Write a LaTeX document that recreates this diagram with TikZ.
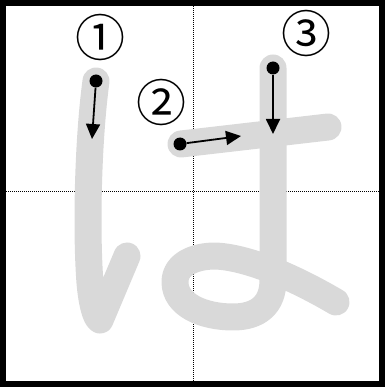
\documentclass[tikz,border=0pt]{standalone}
\usepackage{fontspec}
\newfontfamily\jpfont{Noto Sans CJK JP}
\usetikzlibrary{arrows.meta}
\definecolor{strokegray}{RGB}{217,217,217}
\begin{document}
\begin{tikzpicture}[x=1pt, y=-1pt,
		startdot/.style={fill, circle, inner sep=0pt, minimum size=13pt},
		num/.style={font=\jpfont\fontsize{50}{50}\selectfont, inner sep=0pt},
		kanastroke/.style={strokegray, line width=27pt, line cap=round, line join=round},
		arr/.style={-{Triangle[length=15pt, width=14pt]}, line width=1.8pt}]
		\useasboundingbox (0,0) rectangle (385,387);
		\draw[densely dotted, line width=1pt] (193,6) -- (193,381) (6,191) -- (380,191);
		\draw[line width=6pt] (3,3) rectangle (382,384);
		
		\draw[kanastroke] (96,81) .. controls (88,140) and (86,230) .. (90,283) .. controls (92,305) and (96,318) .. (100,320) -- (127,256);
		\draw[kanastroke] (181,144) -- (328,127);
		\draw[kanastroke] (273,68) -- (273,280) .. controls (273,305) and (258,317) .. (233,317) .. controls (203,317) and (175,305) .. (175,282) .. controls (175,264) and (195,256) .. (215,256) .. controls (245,257) and (290,275) .. (336,302);
		
		\node[num] at (100,38) (N1) {①};
		\node[num] at (161,103) (N2) {②};
		\node[num] at (306,34) (N3) {③};
		
		\node[startdot] at (96,81) (D1) {};
		\node[startdot] at (180,144) (D2) {};
		\node[startdot] at (273,68) (D3) {};
		\coordinate (A1) at (92,139);
		\coordinate (A2) at (241,136);
		\coordinate (A3) at (273,134);
		
		\draw[arr] (D1) -- (A1);
		\draw[arr] (D2) -- (A2);
		\draw[arr] (D3) -- (A3);
		\end{tikzpicture}
\end{document}
